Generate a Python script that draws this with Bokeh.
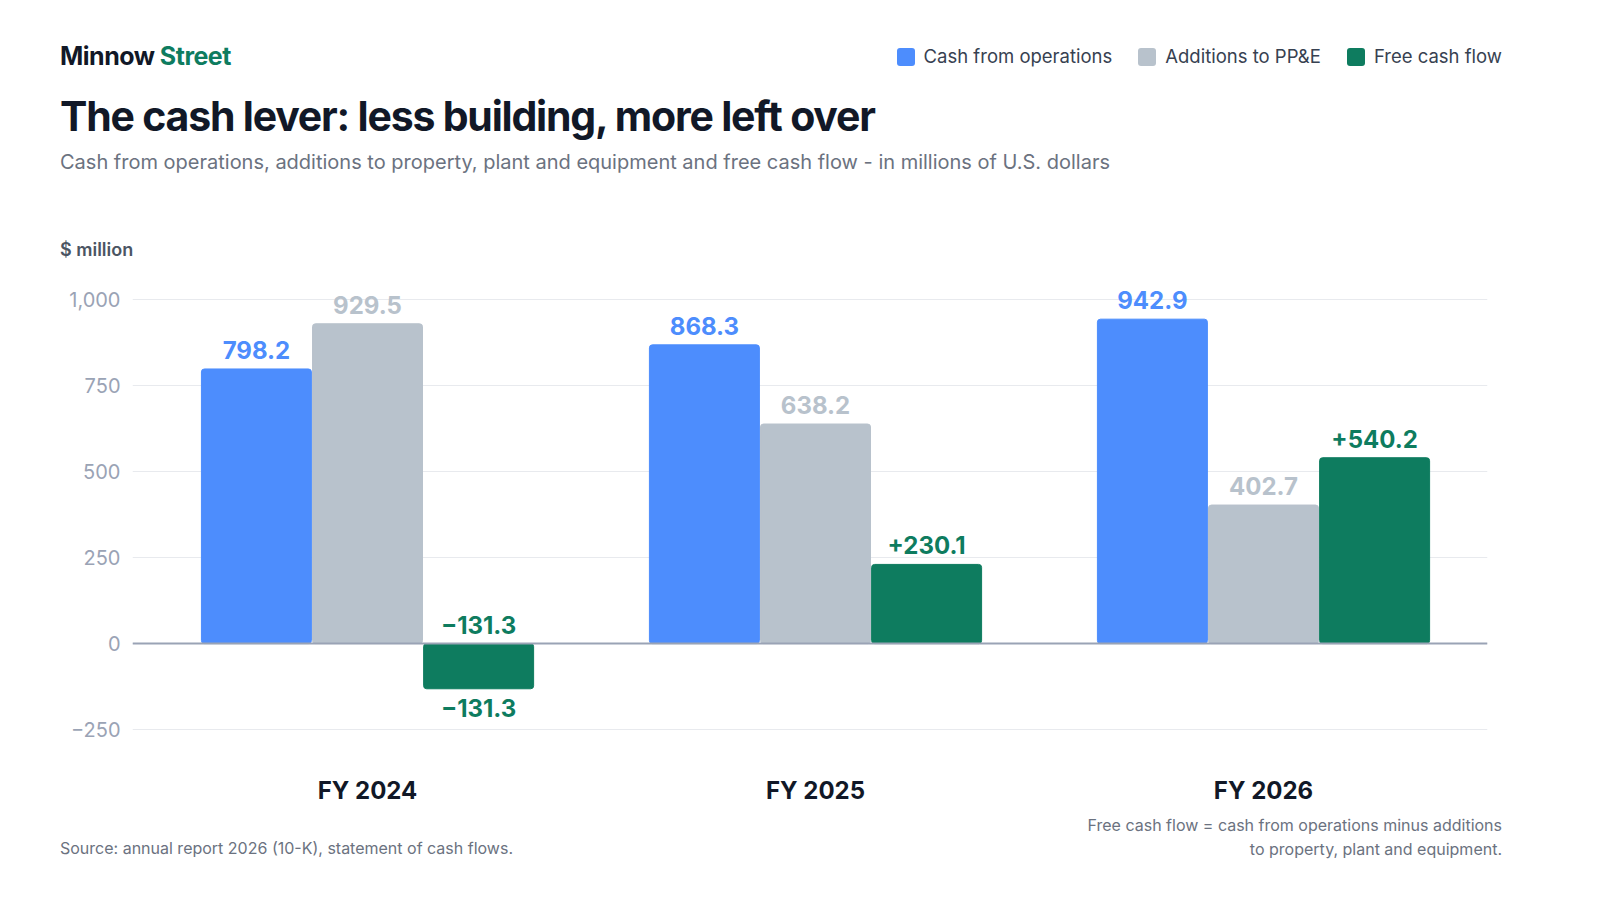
from bokeh.plotting import figure
from bokeh.layouts import column
from bokeh.models import Div, Span, FixedTicker, ColumnDataSource, LabelSet
from bokeh.transform import dodge
from bokeh.core.properties import value
from bokeh.embed import file_html
from bokeh.resources import INLINE

years = ["FY 2024", "FY 2025", "FY 2026"]
cfo = [798.2, 868.3, 942.9]
capex = [929.5, 638.2, 402.7]
fcf = [-131.3, 230.1, 540.2]
series = ["Cash from operations", "Additions to PP&E", "Free cash flow"]
colors = ["#4d8dfd", "#b8c2cc", "#0e7c5f"]
yticks = [-250, 0, 250, 500, 750, 1000]

FONT = "Inter"
W = 1584

def sq(c):
    return f'<span style="display:inline-block;width:18px;height:18px;background:{c};border-radius:3px;vertical-align:-3px;margin-right:9px"></span>'

legend = "".join(f'<span style="margin-left:26px">{sq(c)}{s}</span>' for s, c in zip(series, colors))
header = Div(width=W, height=262, text=f"""
<div style="font-family:{FONT};position:relative;width:{W}px;height:262px">
<div style="position:absolute;left:55px;top:34px;font-size:25px;font-weight:700;color:#111827;letter-spacing:-0.5px">Minnow <span style="color:#0e7c5f">Street</span></div>
<div style="position:absolute;right:87px;top:38px;font-size:18.5px;color:#374151">{legend}</div>
<div style="position:absolute;left:55px;top:82px;font-size:41px;font-weight:700;color:#111827;letter-spacing:-1.2px">The cash lever: less building, more left over</div>
<div style="position:absolute;left:55px;top:143px;font-size:20px;color:#6b7280">Cash from operations, additions to property, plant and equipment and free cash flow - in millions of U.S. dollars</div>
<div style="position:absolute;left:55px;top:232px;font-size:18px;font-weight:600;color:#4b5563">$ million</div>
</div>""")

xs = [0, 1, 2]
src = ColumnDataSource(dict(x=xs, cfo=cfo, capex=capex, fcf=fcf,
    cfo_t=[f"{v:.1f}" for v in cfo], capex_t=[f"{v:.1f}" for v in capex],
    fcf_t=[("+" if v > 0 else "\u2212") + f"{abs(v):.1f}" for v in fcf],
    fcf_y=[max(v, 0) for v in fcf], fcf_neg=[min(v, 0) for v in fcf]))

p = figure(width=W, height=535, x_range=(-0.5246, 2.5), y_range=(-302, 1064),
           output_backend="svg", toolbar_location=None,
           min_border_left=132, min_border_right=97, min_border_top=5, min_border_bottom=60)
p.outline_line_color = None
p.background_fill_color = "white"
bw = 0.2455
off = 0.248
p.vbar(x=dodge("x", -off), top="cfo", width=bw, source=src, color=colors[0], border_radius=3)
p.vbar(x=dodge("x", 0), top="capex", width=bw, source=src, color=colors[1], border_radius=3)
p.vbar(x=dodge("x", off), top="fcf", width=bw, source=src, color=colors[2], border_radius=3)

for col, txt, dx, c in [("cfo", "cfo_t", -off, colors[0]), ("capex", "capex_t", 0, colors[1]), ("fcf_y", "fcf_t", off, colors[2])]:
    ls = LabelSet(x=dodge("x", dx), y=col, text=txt, source=src, y_offset=10,
                  text_align="center", text_baseline="bottom", text_color=c,
                  text_font=value(FONT), text_font_size="24px", text_font_style="bold")
    p.add_layout(ls)
neg = ColumnDataSource(dict(x=[x for x, v in zip(xs, fcf) if v < 0],
                            y=[v for v in fcf if v < 0],
                            t=["\u2212" + f"{abs(v):.1f}" for v in fcf if v < 0]))
p.add_layout(LabelSet(x=dodge("x", off), y="y", text="t", source=neg, y_offset=-10,
                      text_align="center", text_baseline="top", text_color=colors[2],
                      text_font=value(FONT), text_font_size="24px", text_font_style="bold"))

p.add_layout(Span(location=0, dimension="width", line_color="#9aa3b5", line_width=2))
p.yaxis.ticker = FixedTicker(ticks=yticks)
p.yaxis.major_label_overrides = {-250: "\u2212250", 1000: "1,000"}
p.yaxis.axis_line_color = None
p.yaxis.major_tick_line_color = None
p.yaxis.minor_tick_line_color = None
p.yaxis.major_label_text_color = "#9aa3b5"
p.yaxis.major_label_text_font = FONT
p.yaxis.major_label_text_font_size = "20px"
p.yaxis.major_label_standoff = 6
p.ygrid.grid_line_color = "#e8eaee"
p.ygrid.ticker = FixedTicker(ticks=yticks)
p.xgrid.grid_line_color = None
p.xaxis.ticker = FixedTicker(ticks=xs)
p.xaxis.major_label_overrides = {i: y for i, y in enumerate(years)}
p.xaxis.axis_line_color = None
p.xaxis.major_tick_line_color = None
p.xaxis.minor_tick_line_color = None
p.xaxis.major_label_text_color = "#111827"
p.xaxis.major_label_text_font = FONT
p.xaxis.major_label_text_font_size = "24px"
p.xaxis.major_label_text_font_style = "bold"
p.xaxis.major_label_standoff = 22

footer = Div(width=W, height=79, text=f"""
<div style="font-family:{FONT};position:relative;width:{W}px;height:79px;color:#6b7280;font-size:16px">
<div style="position:absolute;left:55px;top:25px">Source: annual report 2026 (10-K), statement of cash flows.</div>
<div style="position:absolute;right:87px;top:1px;text-align:right;line-height:24px">Free cash flow = cash from operations minus additions<br>to property, plant and equipment.</div>
</div>""")

layout = column(header, p, footer, spacing=0)
open("out.html", "w").write(file_html(layout, INLINE))
